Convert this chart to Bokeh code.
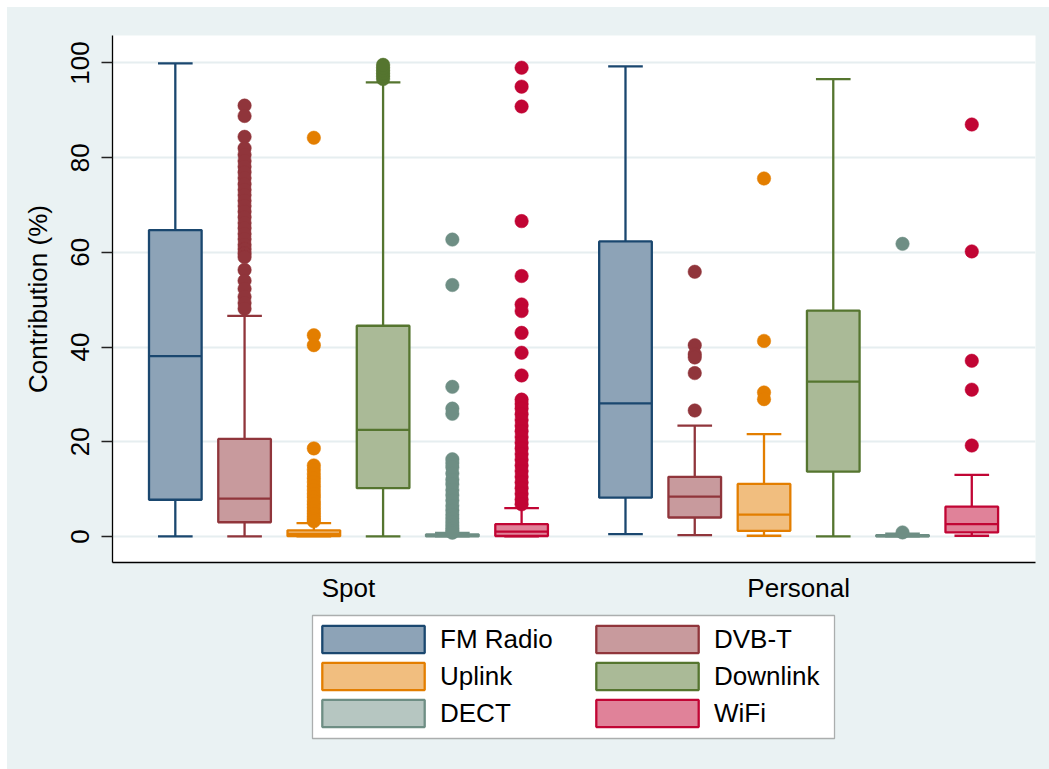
from bokeh.plotting import figure
from bokeh.models import (ColumnDataSource, Range1d, FixedTicker, Legend,
                          LegendItem, Spacer, BoxAnnotation)
from bokeh.layouts import column, row
from bokeh.embed import file_html
from bokeh.resources import INLINE

# ---------------------------------------------------------------- data
groups = ["Spot", "Personal"]
sources = ["FM Radio", "DVB-T", "Uplink", "Downlink", "DECT", "WiFi"]
yticks = [0, 20, 40, 60, 80, 100]

edge_colors = ["#1a476f", "#90353b", "#e37e00", "#55752f", "#6e8e84", "#c10534"]
fill_colors = ["#8da3b7", "#c89a9d", "#f1be7f", "#aaba97", "#b6c6c1", "#e08299"]

# box statistics (lower whisker, Q1, median, Q3, upper whisker), order of `sources`
spot_lower = [0.0, 0.0, 0.0, 0.0, 0.0, 0.0]
spot_q1 = [7.75, 3.0, 0.05, 10.2, 0.0, 0.1]
spot_median = [38.1, 8.0, 0.55, 22.5, 0.15, 1.0]
spot_q3 = [64.7, 20.6, 1.3, 44.5, 0.45, 2.6]
spot_upper = [99.9, 46.6, 2.8, 95.9, 0.75, 6.0]

personal_lower = [0.5, 0.3, 0.15, 0.0, 0.0, 0.15]
personal_q1 = [8.2, 4.0, 1.2, 13.7, 0.0, 0.85]
personal_median = [28.1, 8.4, 4.6, 32.7, 0.1, 2.6]
personal_q3 = [62.3, 12.6, 11.1, 47.7, 0.3, 6.3]
personal_upper = [99.3, 23.4, 21.6, 96.6, 0.6, 13.0]

# outside values
spot_out_fm = []
spot_out_dvbt = [91.0, 88.8, 84.4, 82.0, 80.6, 79.3, 78.1, 76.9, 75.7, 74.4,
                 73.2, 72.1, 70.9, 69.8, 68.6, 67.4, 66.2, 65.1, 63.9, 62.8,
                 61.6, 60.7, 59.8, 59.0, 56.3, 54.0, 52.3, 50.6, 49.3, 48.1]
spot_out_uplink = [84.2, 42.5, 40.4, 18.6, 15.0, 14.1, 13.2, 12.3, 11.5, 10.6,
                   9.8, 9.0, 8.3, 7.5, 6.8, 6.1, 5.4, 4.8, 4.2, 3.7, 3.2]
spot_out_downlink = [96.6, 97.2, 97.8, 98.4, 99.0, 99.6]
spot_out_dect = [62.7, 53.1, 31.6, 27.0, 25.9, 16.3, 15.5, 14.6, 13.3, 12.0,
                 11.0, 9.8, 8.7, 7.6, 6.5, 5.5, 4.6, 3.8, 3.0, 2.3, 1.7, 1.2, 0.8]
spot_out_wifi = [99.0, 95.0, 90.8, 66.6, 55.0, 49.0, 47.6, 43.0, 38.8, 34.0,
                 28.9, 28.0, 27.0, 25.8, 24.6, 23.4, 22.2, 21.0, 19.8, 18.6,
                 17.4, 16.2, 15.0, 13.8, 12.6, 11.4, 10.2, 9.0, 7.8, 6.8]

personal_out_fm = []
personal_out_dvbt = [55.9, 40.4, 38.5, 37.8, 34.5, 26.6]
personal_out_uplink = [75.6, 41.3, 30.4, 29.0]
personal_out_downlink = []
personal_out_dect = [61.8, 0.85]
personal_out_wifi = [87.0, 60.2, 37.1, 31.0, 19.2]

# ---------------------------------------------------------------- layout constants
FONT = "Liberation Sans"
BG = "#eaf2f3"
GROUP_STEP = len(sources) + 0.5     # slot distance between the two groups
BOX_W = 0.76
CAP_W = 0.5
LW = 2.3
FIG_W = 1042
MAIN_H = 600
KEY_H = 162
BORDER_L, BORDER_R = 105, 14

stats = {
    "Spot": (spot_lower, spot_q1, spot_median, spot_q3, spot_upper,
             [spot_out_fm, spot_out_dvbt, spot_out_uplink, spot_out_downlink,
              spot_out_dect, spot_out_wifi]),
    "Personal": (personal_lower, personal_q1, personal_median, personal_q3, personal_upper,
                 [personal_out_fm, personal_out_dvbt, personal_out_uplink,
                  personal_out_downlink, personal_out_dect, personal_out_wifi]),
}

p = figure(width=FIG_W, height=MAIN_H, output_backend="svg", toolbar_location=None,
           x_range=Range1d(-0.907, 12.42), y_range=Range1d(-5.5, 105.8),
           min_border_left=BORDER_L, min_border_right=BORDER_R, min_border_top=28,
           min_border_bottom=45, background_fill_color="white",
           border_fill_color=BG)
p.outline_line_color = None

p.xgrid.grid_line_color = None
p.ygrid.ticker = FixedTicker(ticks=yticks)
p.ygrid.grid_line_color = "#e6eef0"
p.ygrid.grid_line_width = 2

for i, (name, ec, fc) in enumerate(zip(sources, edge_colors, fill_colors)):
    xs, lo, q1, md, q3, hi = [], [], [], [], [], []
    ox, oy = [], []
    for gi, g in enumerate(groups):
        s_lo, s_q1, s_md, s_q3, s_hi, s_out = stats[g]
        x = gi * GROUP_STEP + i
        xs.append(x)
        lo.append(s_lo[i]); q1.append(s_q1[i]); md.append(s_md[i])
        q3.append(s_q3[i]); hi.append(s_hi[i])
        ox.extend([x] * len(s_out[i])); oy.extend(s_out[i])
    src = ColumnDataSource(dict(
        x=xs, lo=lo, q1=q1, md=md, q3=q3, hi=hi,
        left=[v - BOX_W / 2 for v in xs], right=[v + BOX_W / 2 for v in xs],
        cl=[v - CAP_W / 2 for v in xs], cr=[v + CAP_W / 2 for v in xs]))
    # whiskers
    p.segment(x0="x", y0="q3", x1="x", y1="hi", source=src, line_color=ec,
              line_width=LW)
    p.segment(x0="x", y0="q1", x1="x", y1="lo", source=src, line_color=ec,
              line_width=LW)
    # caps
    p.segment(x0="cl", y0="hi", x1="cr", y1="hi", source=src, line_color=ec,
              line_width=LW)
    p.segment(x0="cl", y0="lo", x1="cr", y1="lo", source=src, line_color=ec,
              line_width=LW)
    # box and median
    p.vbar(x="x", width=BOX_W, bottom="q1", top="q3", source=src,
           fill_color=fc, line_color=ec, line_width=LW)
    p.segment(x0="left", y0="md", x1="right", y1="md", source=src,
              line_color=ec, line_width=LW)
    # outside values
    p.scatter(x=ox, y=oy, size=13.5, fill_color=ec, line_color=ec,
              line_width=0.5)

# y axis
p.yaxis.ticker = FixedTicker(ticks=yticks)
p.yaxis.axis_label = "Contribution (%)"
p.yaxis.axis_label_text_font = FONT
p.yaxis.axis_label_text_font_size = "26px"
p.yaxis.axis_label_text_font_style = "normal"
p.yaxis.axis_label_text_color = "black"
p.yaxis.axis_label_standoff = 16
p.yaxis.major_label_orientation = "vertical"
p.yaxis.major_label_text_font = FONT
p.yaxis.major_label_text_font_size = "26px"
p.yaxis.major_label_text_color = "black"
p.yaxis.major_label_standoff = 12
p.yaxis.major_tick_out = 11
p.yaxis.major_tick_in = 0
p.yaxis.major_tick_line_color = "#222222"
p.yaxis.major_tick_line_width = 1.3
p.yaxis.minor_tick_line_color = None
p.yaxis.axis_line_color = "black"
p.yaxis.axis_line_width = 1.3

# x axis: one label per group
group_centers = [gi * GROUP_STEP + (len(sources) - 1) / 2 for gi in range(len(groups))]
p.xaxis.ticker = FixedTicker(ticks=group_centers)
p.xaxis.major_label_overrides = {c: g for c, g in zip(group_centers, groups)}
p.xaxis.major_label_text_font = FONT
p.xaxis.major_label_text_font_size = "26px"
p.xaxis.major_label_text_color = "black"
p.xaxis.major_label_standoff = 10
p.xaxis.major_tick_out = 0
p.xaxis.major_tick_in = 0
p.xaxis.minor_tick_line_color = None
p.xaxis.axis_line_color = "black"
p.xaxis.axis_line_width = 1.3

# ---------------------------------------------------------------- key panel
# same horizontal frame as the chart above; coordinates are page pixels
# (x to the right, y downwards)
k = figure(width=FIG_W, height=KEY_H, output_backend="svg", toolbar_location=None,
           x_range=Range1d(7 + BORDER_L, 7 + FIG_W - BORDER_R),
           y_range=Range1d(7 + MAIN_H + KEY_H, 7 + MAIN_H),
           x_axis_type=None, y_axis_type=None,
           min_border_left=BORDER_L, min_border_right=BORDER_R, min_border_top=0,
           min_border_bottom=0, background_fill_color=BG, border_fill_color=BG)
k.outline_line_color = None
k.grid.grid_line_color = None

k.add_layout(BoxAnnotation(left=312, right=834, top=615, bottom=738,
                           fill_color="white", fill_alpha=1.0,
                           line_color="black", line_width=1.3, level="underlay"))

# key swatches: one undrawn (NaN) proxy bar per source carrying its colours
nan = float("nan")
swatches = []
for name, ec, fc in zip(sources, edge_colors, fill_colors):
    sw = k.vbar(x=[nan], width=1, top=[nan], bottom=[nan], fill_color=fc,
                line_color=ec, line_width=LW)
    swatches.append((name, sw))

# legend glyphs are inset by 10 % on each side, so the glyph box is
# enlarged to give ~102 x 27 px swatches
GW, GH = 128, 34
key_style = dict(orientation="vertical", glyph_width=GW, glyph_height=GH,
                 label_height=30, label_standoff=3, spacing=3, padding=0,
                 margin=0, label_text_font=FONT, label_text_font_size="26px",
                 label_text_color="black", border_line_color=None,
                 background_fill_alpha=0.0)
left_key = Legend(items=[LegendItem(label=n, renderers=[r]) for n, r in swatches[0::2]],
                  location=(197, 39), **key_style)
right_key = Legend(items=[LegendItem(label=n, renderers=[r]) for n, r in swatches[1::2]],
                   location=(471, 39), **key_style)
k.add_layout(left_key, "center")
k.add_layout(right_key, "center")

inner = column(p, k, spacing=0, styles={"background-color": BG})
layout = column(Spacer(height=7), row(Spacer(width=7), inner))
open("out.html", "w").write(file_html(layout, INLINE))
